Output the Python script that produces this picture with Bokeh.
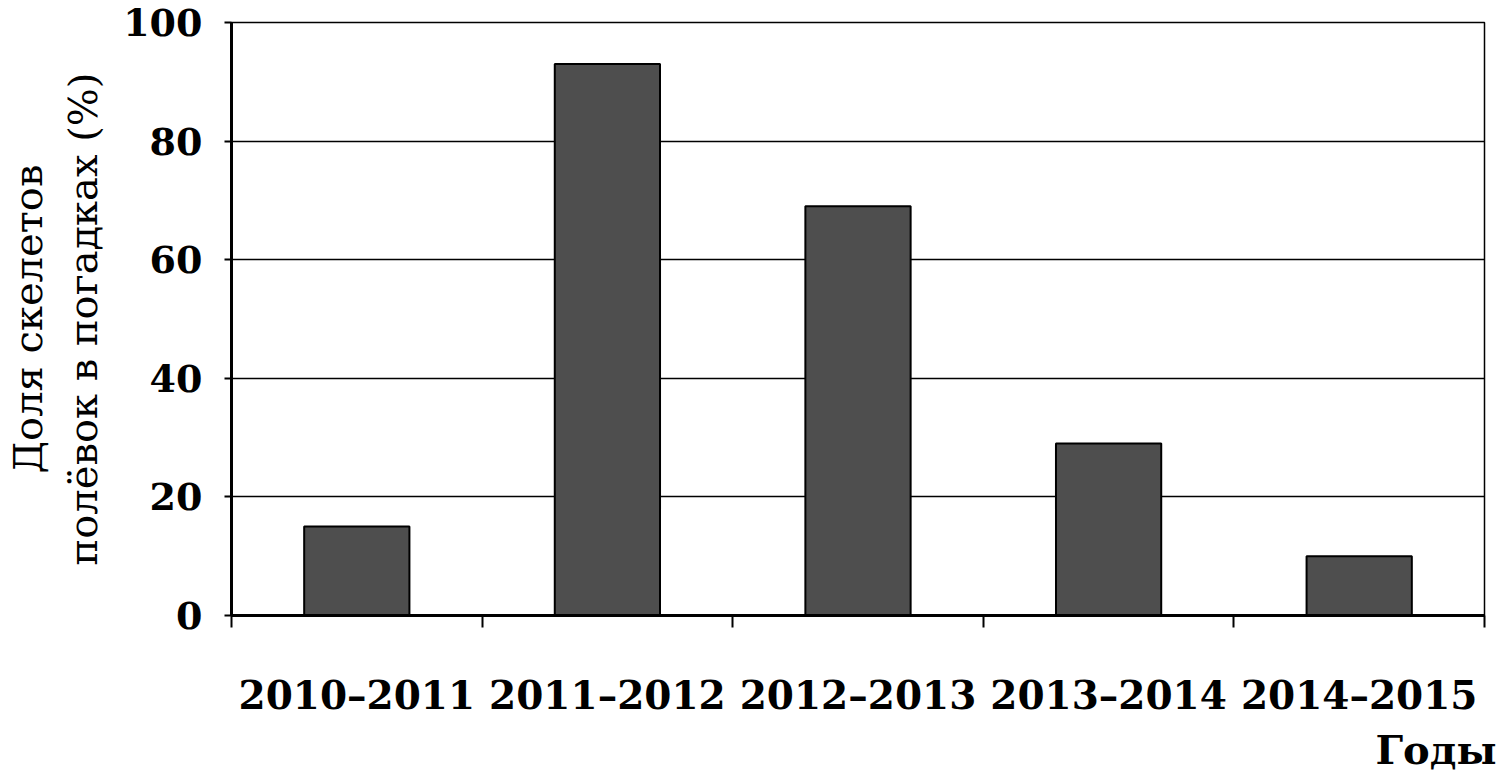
from bokeh.plotting import figure
from bokeh.models import FixedTicker, Title
from bokeh.embed import file_html
from bokeh.resources import INLINE

# Доля скелетов полёвок в погадках по годам
periods = ['2010–2011', '2011–2012', '2012–2013', '2013–2014', '2014–2015']
shares = [15, 93, 69, 29, 10]
y_ticks = [0, 20, 40, 60, 80, 100]

serif = 'DejaVu Serif'

x_pos = [i + 0.5 for i in range(len(periods))]

p = figure(width=1500, height=780, x_range=(0, len(periods)), y_range=(0, 100),
           output_backend='svg', toolbar_location=None, tools='',
           min_border_left=231, min_border_right=16, min_border_top=22,
           min_border_bottom=165)

p.vbar(x=x_pos, top=shares, width=0.42, fill_color='#4e4e4e',
       line_color='black', line_width=2)

# оси
p.xaxis.ticker = FixedTicker(ticks=x_pos, minor_ticks=list(range(len(periods) + 1)))
p.xaxis.major_label_overrides = {x: lab for x, lab in zip(x_pos, periods)}
p.xaxis.major_tick_line_color = None
p.xaxis.minor_tick_in = 0
p.xaxis.minor_tick_out = 12
p.xaxis.minor_tick_line_width = 2
p.xaxis.major_label_standoff = 44
p.xaxis.major_label_text_font = serif
p.xaxis.major_label_text_font_style = 'bold'
p.xaxis.major_label_text_font_size = '39px'
p.xaxis.axis_line_width = 3

p.yaxis.ticker = FixedTicker(ticks=y_ticks)
p.yaxis.major_tick_in = 0
p.yaxis.major_tick_out = 7
p.yaxis.major_tick_line_width = 2
p.yaxis.minor_tick_line_color = None
p.yaxis.major_label_standoff = 22
p.yaxis.major_label_text_font = serif
p.yaxis.major_label_text_font_style = 'bold'
p.yaxis.major_label_text_font_size = '38px'
p.yaxis.axis_line_width = 3
p.yaxis.axis_label = 'Доля скелетов\nполёвок в погадках (%)'
p.yaxis.axis_label_text_font = serif
p.yaxis.axis_label_text_font_style = 'normal'
p.yaxis.axis_label_text_font_size = '40px'
p.yaxis.axis_label_standoff = 14

for ax in (p.xaxis, p.yaxis):
    ax.axis_line_color = 'black'
    ax.major_label_text_color = 'black'
    ax.axis_label_text_color = 'black'

p.xgrid.grid_line_color = None
p.ygrid.ticker = FixedTicker(ticks=y_ticks)
p.ygrid.grid_line_color = 'black'
p.ygrid.grid_line_width = 1.5

p.outline_line_color = 'black'
p.outline_line_width = 1.5

p.add_layout(Title(text='Годы', align='right', text_font=serif,
                   text_font_size='40px', text_font_style='bold',
                   text_color='black', standoff=6, offset=-12), 'below')

open('out.html', 'w').write(file_html(p, INLINE))
